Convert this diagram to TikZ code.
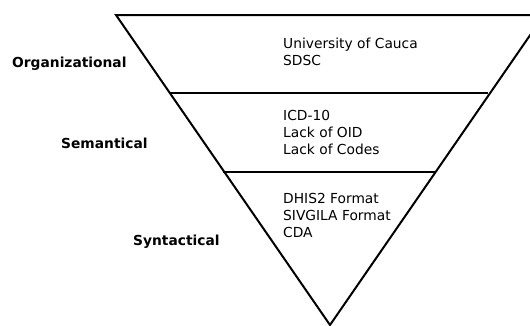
\documentclass[tikz,border=0pt]{standalone}
\usepackage{fontspec}
\setmainfont{DejaVu Sans}
\begin{document}
\begin{tikzpicture}[x=1pt,y=-1pt,
  edge/.style={line width=2pt,line join=miter},
  level/.style={font=\bfseries\fontsize{13.8}{17}\selectfont,inner sep=0pt,anchor=base west},
  items/.style={font=\fontsize{13.8}{17}\selectfont,inner sep=0pt,anchor=north west,align=left}]
\useasboundingbox (0,0) rectangle (530,325);
\coordinate (tl) at (116,15);
\coordinate (tr) at (544,15);
\coordinate (ap) at (330,325);
\coordinate (l1) at (170,93);
\coordinate (r1) at (488,93);
\coordinate (l2) at (222.5,172);
\coordinate (r2) at (435,172);
\draw[edge] (tl) -- (tr) -- (ap) -- cycle;
\draw[edge] (l1) -- (r1);
\draw[edge] (l2) -- (r2);
\node[level] (org) at (12,67) {Organizational};
\node[level] (sem) at (61,148) {Semantical};
\node[level] (syn) at (133,245) {Syntactical};
\node[items] (orgt) at (283,38) {University of Cauca\\SDSC};
\node[items] (semt) at (283,110) {ICD-10\\Lack of OID\\Lack of Codes};
\node[items] (synt) at (283,193) {DHIS2 Format\\SIVGILA Format\\CDA};
\end{tikzpicture}
\end{document}
